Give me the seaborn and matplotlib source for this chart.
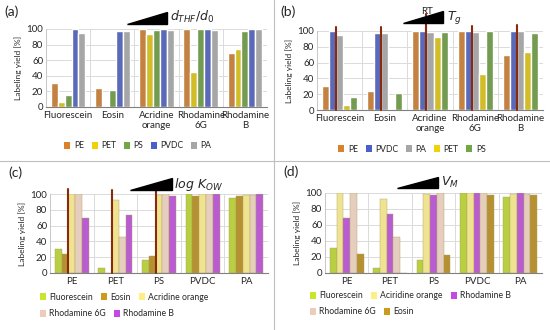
import numpy as np
import pandas as pd
import matplotlib
matplotlib.use("Agg")
import matplotlib.pyplot as plt
from matplotlib.patches import Patch, Polygon
from matplotlib.lines import Line2D
import seaborn as sns

# labeling yield [%] for each dye on each polymer
polymers = ["PE", "PET", "PS", "PVDC", "PA"]
dyes = ["Fluorescein", "Eosin", "Acridine orange", "Rhodamine 6G", "Rhodamine B"]
fluorescein = [31, 6, 16, 100, 95]
eosin = [24, 0, 22, 98, 97]
acridine = [100, 93, 99, 100, 99]
rhodamine_6g = [100, 45, 100, 100, 99]
rhodamine_b = [69, 74, 98, 100, 100]

dye_ticks = ["Fluorescein", "Eosin", "Acridine\norange", "Rhodamine\n6G", "Rhodamine\nB"]
order_b = ["PE", "PVDC", "PA", "PET", "PS"]
order_d = ["Fluorescein", "Acridine orange", "Rhodamine B", "Rhodamine 6G", "Eosin"]
legend_d = {"Acridine orange": "Aciridine orange"}

# separator lines (RT vs Tg, log Kow) and their heights
lines_b = [105, 105, 122, 106, 107]
lines_c = [106, 105, 112]

pal_poly = {"PE": "#D9822B", "PET": "#EFD20A", "PS": "#72A844",
            "PVDC": "#4B5FC8", "PA": "#A6A6A6"}
pal_dye = {"Fluorescein": "#C8E62A", "Eosin": "#CC9A1C", "Acridine orange": "#FFEE82",
           "Rhodamine 6G": "#EDCDB8", "Rhodamine B": "#C548E6"}
line_col = "#8A2A0C"

sns.set_style("whitegrid")
plt.rcParams["font.family"] = ["Lato", "DejaVu Sans"]

values = [fluorescein, eosin, acridine, rhodamine_6g, rhodamine_b]
df = pd.DataFrame([{"dye": d, "polymer": p, "yield": v[j]}
                   for d, v in zip(dyes, values) for j, p in enumerate(polymers)])

W, H = 550, 330
fig = plt.figure(figsize=(W / 100, H / 100), dpi=100)


def make_ax(left, right, top, bottom):
    return fig.add_axes([left / W, (H - bottom) / H, (right - left) / W, (bottom - top) / H])


def style(ax, ticklabels):
    ax.set_ylim(0, 100)
    ax.set_yticks(range(0, 101, 20))
    ax.set_xticks(range(5))
    ax.set_xticklabels(ticklabels, fontsize=7, linespacing=1.05)
    ax.tick_params(axis="y", labelsize=7, pad=2, length=0)
    ax.tick_params(axis="x", pad=3, length=0)
    ax.set_xlim(-0.5, 4.5)
    ax.set_xticks(np.arange(-0.5, 5, 1), minor=True)
    ax.tick_params(axis="x", which="minor", length=0)
    ax.grid(axis="x", which="major", visible=False)
    ax.grid(axis="x", which="minor", color="#DADADA", lw=0.7)
    ax.grid(axis="y", color="#DADADA", lw=0.7)
    ax.set_ylabel("Labeling yield [%]", fontsize=6, labelpad=3)
    ax.set_xlabel("")
    for s in ["top", "right"]:
        ax.spines[s].set_visible(False)
    ax.spines["left"].set_color("#C8C8C8")
    ax.spines["bottom"].set_color("#808080")
    ax.spines["left"].set_linewidth(0.7)
    ax.spines["bottom"].set_linewidth(0.8)


def triangle(x0, x1, ybase, ytop):
    fig.patches.append(Polygon([(x0 / W, 1 - ybase / H), (x1 / W, 1 - ybase / H),
                                (x1 / W, 1 - ytop / H)], closed=True, color="black",
                               transform=fig.transFigure))


def row_legend(labels, colors, x, y, loc="center left"):
    handles = [Patch(facecolor=c, edgecolor="none") for c in colors]
    fig.legend(handles, labels, loc=loc, bbox_to_anchor=(x / W, 1 - y / H),
               ncol=len(labels), frameon=False, fontsize=6.2, borderpad=0,
               borderaxespad=0, handlelength=0.7, handleheight=0.7,
               handletextpad=0.4, columnspacing=0.9)


# (a)
ax = make_ax(46, 267, 29, 107)
sns.barplot(data=df, x="dye", y="yield", hue="polymer", hue_order=polymers,
            palette=pal_poly, width=0.78, legend=False, ax=ax, errorbar=None)
style(ax, dye_ticks)
row_legend(polymers, [pal_poly[p] for p in polymers], 138, 146, loc="center")
triangle(127, 167, 24, 12)
fig.text(170 / W, 1 - 17 / H, r"$d_{THF}/d_0$", fontsize=9, va="center")

# (b)
ax = make_ax(317, 543, 31, 110)
sns.barplot(data=df, x="dye", y="yield", hue="polymer", hue_order=order_b,
            palette=pal_poly, width=0.78, legend=False, ax=ax, errorbar=None)
style(ax, dye_ticks)
for bar, h in zip(ax.containers[2], lines_b):
    ax.add_line(Line2D([bar.get_x()] * 2, [0, h], color=line_col, lw=1.5, clip_on=False, zorder=5))
row_legend(order_b, [pal_poly[p] for p in order_b], 412, 149, loc="center")
triangle(403, 443, 23, 11)
fig.text(427 / W, 1 - 12 / H, "RT", fontsize=7, va="center", ha="center")
fig.text(447 / W, 1 - 18 / H, r"$T_g$", fontsize=9, va="center")

# (c)
ax = make_ax(50, 268, 194, 273)
sns.barplot(data=df, x="polymer", y="yield", hue="dye", hue_order=dyes,
            palette=pal_dye, width=0.78, legend=False, ax=ax, errorbar=None,
            edgecolor="#B0A060", linewidth=0.3)
style(ax, polymers)
for bar, h in zip(ax.containers[2], lines_c):
    ax.add_line(Line2D([bar.get_x()] * 2, [0, h], color=line_col, lw=1.5, clip_on=False, zorder=5))
row_legend(dyes[:3], [pal_dye[d] for d in dyes[:3]], 40, 297)
row_legend(dyes[3:], [pal_dye[d] for d in dyes[3:]], 40, 314)
triangle(130, 172, 190, 178)
fig.text(174 / W, 1 - 185 / H, r"$log\ K_{OW}$", fontsize=9, va="center")

# (d)
ax = make_ax(325, 542, 193, 273)
sns.barplot(data=df, x="polymer", y="yield", hue="dye", hue_order=order_d,
            palette=pal_dye, width=0.78, legend=False, ax=ax, errorbar=None,
            edgecolor="#B0A060", linewidth=0.3)
style(ax, polymers)
row_legend([legend_d.get(d, d) for d in order_d[:3]], [pal_dye[d] for d in order_d[:3]], 310, 296)
row_legend(order_d[3:], [pal_dye[d] for d in order_d[3:]], 310, 312)
triangle(397, 438, 188, 177)
fig.text(441 / W, 1 - 182 / H, r"$V_M$", fontsize=9, va="center")

# panel labels and dividers
for lbl, x, y in [("(a)", 4, 12), ("(b)", 280, 12), ("(c)", 8, 173), ("(d)", 283, 172)]:
    fig.text(x / W, 1 - y / H, lbl, fontsize=10, va="center")
fig.add_artist(Line2D([274 / W] * 2, [0, 1], color="#BFBFBF", lw=0.8))
fig.add_artist(Line2D([0, 1], [1 - 161 / H] * 2, color="#BFBFBF", lw=0.8))

fig.savefig("out.png", dpi=100)
